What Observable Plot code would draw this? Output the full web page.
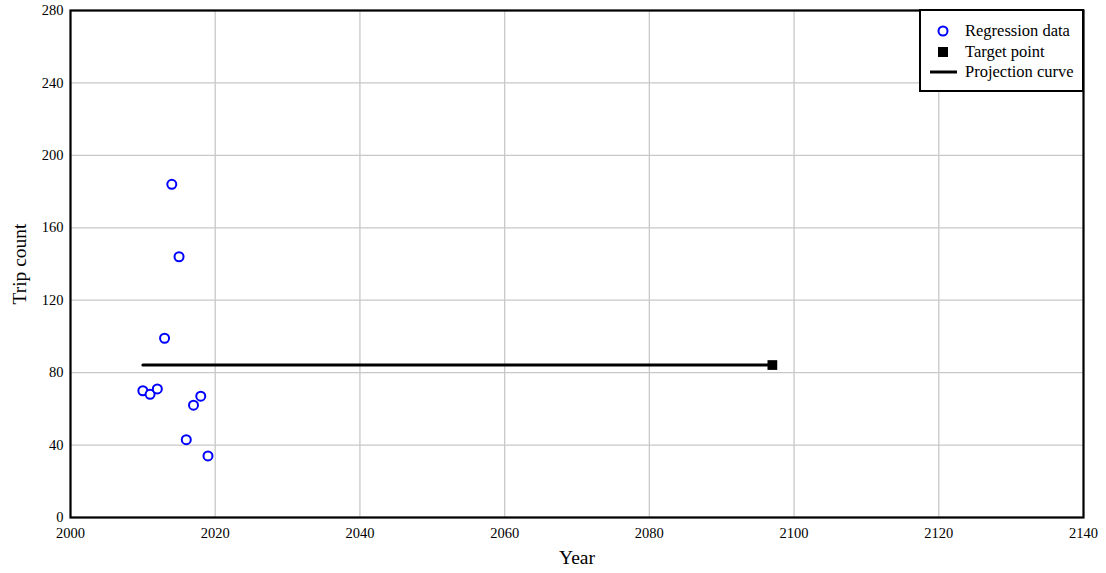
<!DOCTYPE html>
<html><head><meta charset="utf-8">
<script src="https://cdn.jsdelivr.net/npm/d3@7"></script>
<script src="https://cdn.jsdelivr.net/npm/@observablehq/plot@0.6"></script>
<style>
body{margin:0;background:#fff;font-family:"Liberation Serif",serif;}
#wrap{position:relative;width:1106px;height:573px;}
#legend{position:absolute;left:919px;top:9px;width:161px;height:79px;border:2px solid #000;background:#fff;font-size:16.5px;}
#legend .row{position:absolute;left:0;height:20px;line-height:20px;}
#legend .sym{position:absolute;left:8px;width:28px;height:20px;}
#legend .lab{position:absolute;left:44px;white-space:nowrap;}
</style></head>
<body><div id="wrap"><div id="legend"></div></div>
<script>
const years = [2010, 2011, 2012, 2013, 2014, 2015, 2016, 2017, 2018, 2019];
const trips = [70, 68, 71, 99, 184, 144, 43, 62, 67, 34];
const projYears = [2010, 2097];
const projValues = [84.2, 84.2];
const targetYear = [2097];
const targetValue = [84.2];
const xTicks = [2000, 2020, 2040, 2060, 2080, 2100, 2120, 2140];
const yTicks = [0, 40, 80, 120, 160, 200, 240, 280];
const legendLabels = ["Regression data", "Target point", "Projection curve"];

const pts = years.map((y, i) => ({x: y, y: trips[i]}));
const proj = projYears.map((y, i) => ({x: y, y: projValues[i]}));
const tgt = targetYear.map((y, i) => ({x: y, y: targetValue[i]}));

const chart = Plot.plot({
  width: 1106, height: 573,
  marginLeft: 70, marginRight: 23, marginTop: 10, marginBottom: 56,
  style: {fontFamily: "Liberation Serif, serif", fontSize: "14.5px", background: "#fff", color: "#000"},
  x: {domain: [2000, 2140], ticks: xTicks, tickFormat: d => String(d), tickSize: 0, tickPadding: 10, label: "Year", labelArrow: "none", labelAnchor: "center", labelOffset: 46},
  y: {domain: [0, 280], ticks: yTicks, tickSize: 0, tickPadding: 7, label: "Trip count", labelArrow: "none", labelAnchor: "center", labelOffset: 58},
  marks: [
    Plot.gridX(xTicks, {stroke: "#c8c8c8", strokeOpacity: 1, strokeWidth: 1.3}),
    Plot.gridY(yTicks, {stroke: "#c8c8c8", strokeOpacity: 1, strokeWidth: 1.3}),
    Plot.frame({stroke: "#000", strokeWidth: 2.2}),
    Plot.line(proj, {x: "x", y: "y", stroke: "#000", strokeWidth: 3}),
    Plot.dot(tgt, {x: "x", y: "y", symbol: "square", fill: "#000", r: 5.5}),
    Plot.dot(pts, {x: "x", y: "y", stroke: "#0000ff", fill: "#fff", strokeWidth: 2, r: 4.5})
  ]
});
chart.querySelectorAll('g[aria-label="x-axis label"], g[aria-label="y-axis label"]').forEach(g => {
  g.setAttribute("font-size", "19.5px");
  g.style.fontSize = "19.5px";
  g.querySelectorAll("text").forEach(t => t.style.fontSize = "19.5px");
});
document.getElementById("wrap").prepend(chart);

const lg = document.getElementById("legend");
const syms = [
  '<svg width="28" height="20"><circle cx="14" cy="10" r="4.5" fill="#fff" stroke="#0000ff" stroke-width="2"/></svg>',
  '<svg width="28" height="20"><rect x="9" y="5" width="10" height="10" fill="#000"/></svg>',
  '<svg width="28" height="20"><line x1="1" y1="10" x2="28" y2="10" stroke="#000" stroke-width="3"/></svg>'
];
legendLabels.forEach((l, i) => {
  const r = document.createElement("div");
  r.className = "row";
  r.style.top = (10 + i * 20.5) + "px";
  r.innerHTML = '<div class="sym">' + syms[i] + '</div><div class="lab">' + l + '</div>';
  lg.appendChild(r);
});
</script></body></html>
